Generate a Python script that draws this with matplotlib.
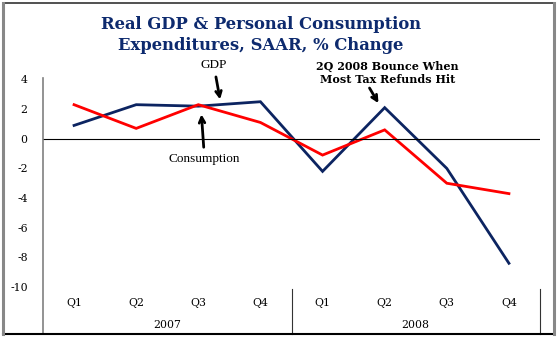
import matplotlib
matplotlib.use("Agg")
import matplotlib.pyplot as plt
from matplotlib.lines import Line2D

quarters = ["Q1", "Q2", "Q3", "Q4", "Q1", "Q2", "Q3", "Q4"]
years = ["2007", "2008"]
gdp = [0.9, 2.3, 2.2, 2.5, -2.2, 2.1, -2.0, -8.4]
consumption = [2.3, 0.7, 2.3, 1.1, -1.1, 0.6, -3.0, -3.7]
yticks = [4, 2, 0, -2, -4, -6, -8, -10]

navy = "#0c2461"
title_col = "#0d2a6e"
W, H = 560, 339

fig = plt.figure(figsize=(W / 100, H / 100), dpi=100)
ax = fig.add_axes([43 / W, 1 - 287 / H, (540 - 43) / W, (287 - 78) / H])

x = list(range(len(quarters)))
ax.plot(x, gdp, color=navy, lw=2.0, solid_joinstyle="miter")
ax.plot(x, consumption, color="#ff0000", lw=2.0, solid_joinstyle="miter")
ax.axhline(0, color="black", lw=0.8)

ax.set_xlim(-0.5, 7.5)
ax.set_ylim(-10, 4.1)
ax.set_yticks(yticks)
ax.set_yticklabels([str(v) for v in yticks], family="DejaVu Serif", fontsize=7.8)
ax.tick_params(axis="y", length=0, pad=11)
ax.set_xticks([])
for s in ax.spines.values():
    s.set_visible(False)

# category band under the plot
band = (334 - 287) / (287 - 78)
ax.add_line(Line2D([0, 0], [1, -band], transform=ax.transAxes, color="#808080",
                   lw=1.2, clip_on=False))
for xv in [0.5, 1.0]:
    ax.add_line(Line2D([xv, xv], [-0.01, -band], transform=ax.transAxes,
                       color="#333333", lw=0.8, clip_on=False))
for i, q in enumerate(quarters):
    ax.text(i, -(303 - 287) / 209, q, transform=ax.get_xaxis_transform(),
            ha="center", va="center", family="DejaVu Serif", fontsize=7.8)
for j, yr in enumerate(years):
    ax.text(0.25 + 0.5 * j, -(325 - 287) / 209, yr, transform=ax.transAxes,
            ha="center", va="center", family="DejaVu Serif", fontsize=7.8)

# annotations
arrow = dict(arrowstyle="->", color="black", lw=2.0, shrinkB=0, mutation_scale=10)
ax.annotate("GDP", xy=(2.35, 2.65), xytext=(2.25, 4.95), ha="center", va="center",
            family="Liberation Serif", fontsize=9.5, annotation_clip=False,
            arrowprops=dict(arrow, shrinkA=2))
ax.annotate("Consumption", xy=(2.05, 1.65), xytext=(2.1, -1.35), ha="center", va="center",
            family="Liberation Serif", fontsize=9.5, annotation_clip=False,
            arrowprops=dict(arrow, shrinkA=2))
ax.annotate("2Q 2008 Bounce When\nMost Tax Refunds Hit", xy=(4.9, 2.4), xytext=(5.05, 4.45),
            ha="center", va="center", family="DejaVu Serif", fontweight="bold",
            fontsize=8, linespacing=1.3, annotation_clip=False,
            arrowprops=dict(arrow, shrinkA=0, relpos=(0.35, 0.1)))

fig.text(261 / W, 1 - 35 / H, "Real GDP & Personal Consumption\nExpenditures, SAAR, % Change",
         ha="center", va="center", family="DejaVu Serif", fontweight="bold",
         fontsize=11.8, color=title_col, linespacing=1.25)

# outer frame
fig.add_artist(Line2D([3 / W, 554 / W], [1 - 3 / H, 1 - 3 / H], color="#333333", lw=1.2))
fig.add_artist(Line2D([3 / W, 554 / W], [1 - 334 / H, 1 - 334 / H], color="black", lw=1.5))
fig.add_artist(Line2D([3 / W, 3 / W], [1 - 3 / H, 1 - 334 / H], color="#888888", lw=2.2))
fig.add_artist(Line2D([554 / W, 554 / W], [1 - 3 / H, 1 - 334 / H], color="#888888", lw=2.2))

fig.savefig("out.png", dpi=100)
